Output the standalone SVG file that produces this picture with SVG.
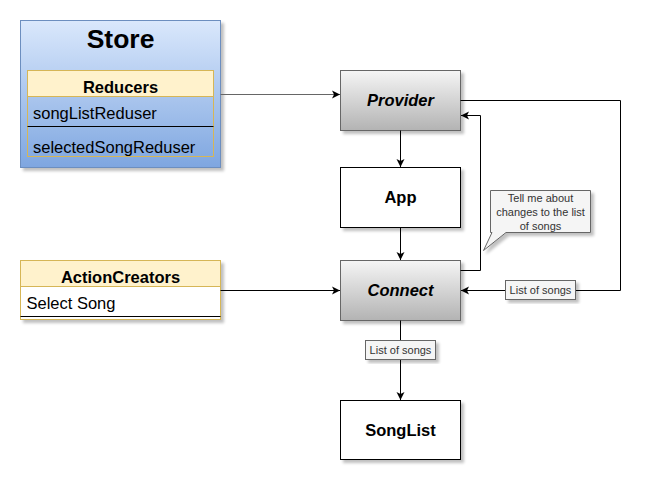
<svg xmlns="http://www.w3.org/2000/svg" width="660" height="491" viewBox="0 0 660 491">
<defs>
<linearGradient id="gBlue" x1="0" y1="0" x2="0" y2="1"><stop offset="0" stop-color="#dae8fc"/><stop offset="1" stop-color="#7ea6e0"/></linearGradient>
<linearGradient id="gGray" x1="0" y1="0" x2="0" y2="1"><stop offset="0" stop-color="#f5f5f5"/><stop offset="1" stop-color="#b3b3b3"/></linearGradient>
<filter id="sh" x="-10%" y="-10%" width="130%" height="130%"><feGaussianBlur in="SourceAlpha" stdDeviation="1.5"/><feOffset dx="3" dy="3" result="b"/><feComponentTransfer><feFuncA type="linear" slope="0.25"/></feComponentTransfer><feMerge><feMergeNode/><feMergeNode in="SourceGraphic"/></feMerge></filter>
<marker id="arr" viewBox="0 0 10 10" refX="9" refY="5" markerWidth="10" markerHeight="10" markerUnits="userSpaceOnUse" orient="auto"><path d="M1,1 L9,5 L1,9 L3,5 Z" fill="#000"/></marker>
</defs>
<style>
text{font-family:"Liberation Sans",Arial,sans-serif;}
.edge{fill:none;stroke:#000;stroke-width:1;marker-end:url(#arr);}
.lbl{fill:#f5f5f5;stroke:#666;stroke-width:1;}
.lt{font-size:11px;fill:#333;text-anchor:middle;}
.bt{font-size:16.5px;font-weight:bold;text-anchor:middle;fill:#000;}
.it{font-size:16.5px;fill:#000;}
</style>
<g id="store">
<rect x="20.5" y="20.5" width="200" height="147" fill="url(#gBlue)" stroke="#6c8ebf" filter="url(#sh)"/>
<text x="120.5" y="47.5" font-size="26.5" font-weight="bold" text-anchor="middle">Store</text>
</g>
<g id="reducers">
<rect x="27.5" y="70.5" width="186" height="86" fill="none" stroke="#d6b656"/>
<rect x="27.5" y="70.5" width="186" height="26" fill="#fff2cc" stroke="#d6b656"/>
<text class="bt" x="120.5" y="93">Reducers</text>
<text class="it" x="33" y="119">songListReduser</text>
<line x1="27.5" y1="126.5" x2="213.5" y2="126.5" stroke="#000"/>
<text class="it" x="33" y="153">selectedSongReduser</text>
</g>
<g id="actionCreators">
<rect x="20.5" y="260.5" width="200" height="59" fill="#fff" stroke="#d6b656" filter="url(#sh)"/>
<rect x="20.5" y="260.5" width="200" height="26" fill="#fff2cc" stroke="#d6b656"/>
<text class="bt" x="120.5" y="283">ActionCreators</text>
<text class="it" x="26.5" y="309">Select Song</text>
<line x1="20.5" y1="316.5" x2="220.5" y2="316.5" stroke="#000"/>
</g>
<g id="provider">
<rect x="340.5" y="70.5" width="120" height="60" fill="url(#gGray)" stroke="#666" filter="url(#sh)"/>
<text class="bt" x="400.5" y="106" font-style="italic">Provider</text>
</g>
<g id="app">
<rect x="340.5" y="167.5" width="120" height="60" fill="#fff" stroke="#000" filter="url(#sh)"/>
<text class="bt" x="400.5" y="203">App</text>
</g>
<g id="connect">
<rect x="340.5" y="260.5" width="120" height="60" fill="url(#gGray)" stroke="#666" filter="url(#sh)"/>
<text class="bt" x="400.5" y="296" font-style="italic">Connect</text>
</g>
<g id="songList">
<rect x="340.5" y="400.5" width="120" height="59" fill="#fff" stroke="#000" filter="url(#sh)"/>
<text class="bt" x="400.5" y="436">SongList</text>
</g>
<g id="connectors">
<path class="edge" d="M220.5,94.5 H340" style="stroke:#666"/>
<path class="edge" d="M400.5,130.5 V167"/>
<path class="edge" d="M400.5,227.5 V260"/>
<path class="edge" d="M460.5,270.5 H480.5 V115.5 H461"/>
<path class="edge" d="M460.5,100.5 H620.5 V290.5 H461"/>
<path class="edge" d="M220.5,290.5 H340"/>
<path class="edge" d="M400.5,320.5 V400"/>
<rect class="lbl" x="505.5" y="280.5" width="70" height="19" filter="url(#sh)"/>
<text class="lt" x="540.5" y="294">List of songs</text>
<rect class="lbl" x="365.5" y="340.5" width="70" height="19" filter="url(#sh)"/>
<text class="lt" x="400.5" y="354">List of songs</text>
</g>
<g id="callout">
<path d="M490.5,190.5 H590.5 V232.5 H506 L483.5,250.5 L492,232.5 H490.5 Z" fill="#f5f5f5" stroke="#666" filter="url(#sh)"/>
<text class="lt" x="540.5" y="202">Tell me about</text>
<text class="lt" x="540.5" y="216">changes to the list</text>
<text class="lt" x="540.5" y="230">of songs</text>
</g>
</svg>
